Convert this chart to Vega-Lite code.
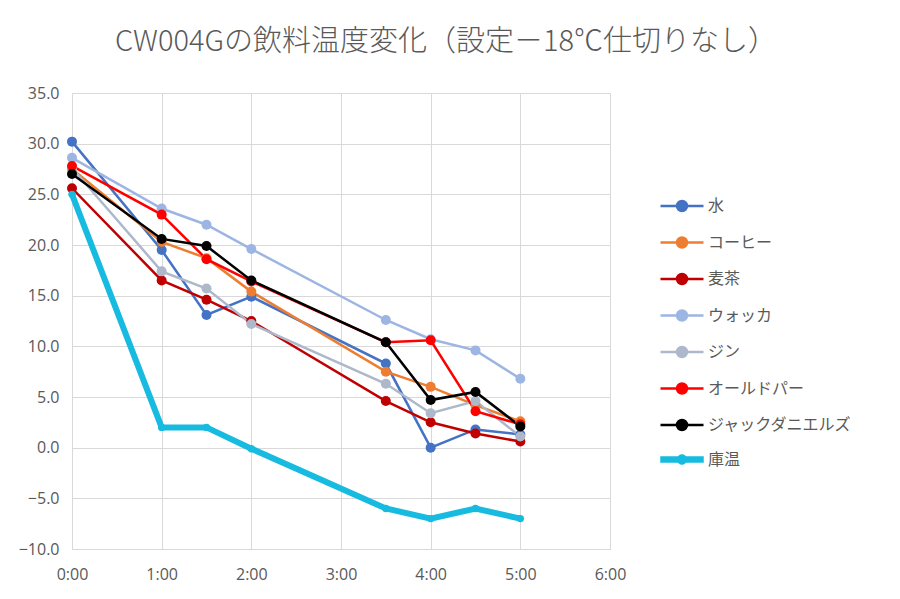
{
  "$schema": "https://vega.github.io/schema/vega-lite/v6.json",
  "width": 538,
  "height": 456,
  "autosize": {"type": "none"},
  "padding": {"left": 72, "top": 93, "right": 290, "bottom": 50},
  "background": "white",
  "title": {
    "text": "CW004Gの飲料温度変化（設定－18℃仕切りなし）",
    "font": "Noto Sans CJK JP",
    "fontSize": 29,
    "fontWeight": 300,
    "color": "#595959",
    "anchor": "middle",
    "dx": 105,
    "offset": 28
  },
  "data": {
    "values": [
      {"series": "水", "t": 0, "temp": 30.2},
      {"series": "水", "t": 1, "temp": 19.5},
      {"series": "水", "t": 1.5, "temp": 13.1},
      {"series": "水", "t": 2, "temp": 14.9},
      {"series": "水", "t": 3.5, "temp": 8.3},
      {"series": "水", "t": 4, "temp": 0.0},
      {"series": "水", "t": 4.5, "temp": 1.8},
      {"series": "水", "t": 5, "temp": 1.3},
      {"series": "コーヒー", "t": 0, "temp": 27.5},
      {"series": "コーヒー", "t": 1, "temp": 20.3},
      {"series": "コーヒー", "t": 1.5, "temp": 18.7},
      {"series": "コーヒー", "t": 2, "temp": 15.4},
      {"series": "コーヒー", "t": 3.5, "temp": 7.5},
      {"series": "コーヒー", "t": 4, "temp": 6.0},
      {"series": "コーヒー", "t": 4.5, "temp": 4.2},
      {"series": "コーヒー", "t": 5, "temp": 2.6},
      {"series": "麦茶", "t": 0, "temp": 25.6},
      {"series": "麦茶", "t": 1, "temp": 16.5},
      {"series": "麦茶", "t": 1.5, "temp": 14.6},
      {"series": "麦茶", "t": 2, "temp": 12.5},
      {"series": "麦茶", "t": 3.5, "temp": 4.6},
      {"series": "麦茶", "t": 4, "temp": 2.5},
      {"series": "麦茶", "t": 4.5, "temp": 1.4},
      {"series": "麦茶", "t": 5, "temp": 0.6},
      {"series": "ウォッカ", "t": 0, "temp": 28.6},
      {"series": "ウォッカ", "t": 1, "temp": 23.6},
      {"series": "ウォッカ", "t": 1.5, "temp": 22.0},
      {"series": "ウォッカ", "t": 2, "temp": 19.6},
      {"series": "ウォッカ", "t": 3.5, "temp": 12.6},
      {"series": "ウォッカ", "t": 4, "temp": 10.7},
      {"series": "ウォッカ", "t": 4.5, "temp": 9.6},
      {"series": "ウォッカ", "t": 5, "temp": 6.8},
      {"series": "ジン", "t": 0, "temp": 27.6},
      {"series": "ジン", "t": 1, "temp": 17.4},
      {"series": "ジン", "t": 1.5, "temp": 15.7},
      {"series": "ジン", "t": 2, "temp": 12.2},
      {"series": "ジン", "t": 3.5, "temp": 6.3},
      {"series": "ジン", "t": 4, "temp": 3.4},
      {"series": "ジン", "t": 4.5, "temp": 4.6},
      {"series": "ジン", "t": 5, "temp": 1.1},
      {"series": "オールドパー", "t": 0, "temp": 27.8},
      {"series": "オールドパー", "t": 1, "temp": 23.0},
      {"series": "オールドパー", "t": 1.5, "temp": 18.6},
      {"series": "オールドパー", "t": 2, "temp": 16.4},
      {"series": "オールドパー", "t": 3.5, "temp": 10.4},
      {"series": "オールドパー", "t": 4, "temp": 10.6},
      {"series": "オールドパー", "t": 4.5, "temp": 3.6},
      {"series": "オールドパー", "t": 5, "temp": 2.3},
      {"series": "ジャックダニエルズ", "t": 0, "temp": 27.0},
      {"series": "ジャックダニエルズ", "t": 1, "temp": 20.6},
      {"series": "ジャックダニエルズ", "t": 1.5, "temp": 19.9},
      {"series": "ジャックダニエルズ", "t": 2, "temp": 16.5},
      {"series": "ジャックダニエルズ", "t": 3.5, "temp": 10.4},
      {"series": "ジャックダニエルズ", "t": 4, "temp": 4.7},
      {"series": "ジャックダニエルズ", "t": 4.5, "temp": 5.5},
      {"series": "ジャックダニエルズ", "t": 5, "temp": 2.1},
      {"series": "庫温", "t": 0, "temp": 25.0},
      {"series": "庫温", "t": 1, "temp": 2.0},
      {"series": "庫温", "t": 1.5, "temp": 2.0},
      {"series": "庫温", "t": 2, "temp": -0.1},
      {"series": "庫温", "t": 3.5, "temp": -6.0},
      {"series": "庫温", "t": 4, "temp": -7.0},
      {"series": "庫温", "t": 4.5, "temp": -6.0},
      {"series": "庫温", "t": 5, "temp": -7.0}
    ]
  },
  "encoding": {
    "x": {
      "field": "t",
      "type": "quantitative",
      "scale": {"domain": [0, 6], "nice": false, "zero": false},
      "axis": {
        "title": null,
        "values": [0, 1, 2, 3, 4, 5, 6],
        "labelExpr": "datum.value + ':00'",
        "labelFlush": false,
        "grid": true,
        "gridColor": "#d9d9d9",
        "gridWidth": 1,
        "domainColor": "#d9d9d9",
        "ticks": false,
        "labelFont": "Open Sans",
        "labelFontSize": 16,
        "labelColor": "#595959",
        "labelPadding": 17
      }
    },
    "y": {
      "field": "temp",
      "type": "quantitative",
      "scale": {"domain": [-10, 35], "nice": false, "zero": false},
      "axis": {
        "title": null,
        "values": [-10, -5, 0, 5, 10, 15, 20, 25, 30, 35],
        "format": ".1f",
        "labelFlush": false,
        "grid": true,
        "gridColor": "#d9d9d9",
        "gridWidth": 1,
        "domainColor": "#d9d9d9",
        "ticks": false,
        "labelFont": "Open Sans",
        "labelFontSize": 16,
        "labelColor": "#595959",
        "labelPadding": 13
      }
    },
    "color": {
      "field": "series",
      "type": "nominal",
      "scale": {
        "domain": ["水", "コーヒー", "麦茶", "ウォッカ", "ジン", "オールドパー", "ジャックダニエルズ", "庫温"],
        "range": ["#4472C4", "#ED7D31", "#C00000", "#9DB5E3", "#AEB8CB", "#FF0000", "#000000", "#17BBE0"]
      },
      "legend": {
        "title": null,
        "orient": "none",
        "legendX": 602,
        "legendY": 105,
        "padding": 0,
        "symbolType": "M-4.3,0H-1A1,1 0 1 1 1,0A1,1 0 1 1 -1,0M1,0H4.3",
        "symbolSize": 100,
        "labelFont": "Noto Sans CJK JP",
        "labelFontSize": 16,
        "labelColor": "#595959",
        "labelOffset": 18,
        "rowPadding": 16.5,
        "encode": {
          "symbols": {
            "update": {
              "shape": {"signal": "datum.value === '庫温' ? 'M-4.3,-0.6H4.3V0.6H-4.3Z M-1,0A1,1 0 1 1 1,0A1,1 0 1 1 -1,0Z' : 'M-4.3,0H-1A1,1 0 1 1 1,0A1,1 0 1 1 -1,0M1,0H4.3'"},
              "stroke": {"signal": "scale('color', datum.value)"},
              "fill": {"signal": "scale('color', datum.value)"},
              "strokeWidth": {"signal": "datum.value === '庫温' ? 0.5 : 2.5"},
              "opacity": {"value": 1}
            }
          }
        }
      }
    }
  },
  "layer": [
    {
      "transform": [{"filter": "datum.series !== '庫温'"}],
      "mark": {"type": "line", "strokeWidth": 2.5}
    },
    {
      "transform": [{"filter": "datum.series !== '庫温'"}],
      "mark": {"type": "point", "filled": true, "size": 100, "opacity": 1}
    },
    {
      "transform": [{"filter": "datum.series === '庫温'"}],
      "mark": {"type": "line", "strokeWidth": 6}
    },
    {
      "transform": [{"filter": "datum.series === '庫温'"}],
      "mark": {"type": "point", "filled": true, "size": 55, "opacity": 1}
    }
  ],
  "config": {"view": {"stroke": null}}
}
